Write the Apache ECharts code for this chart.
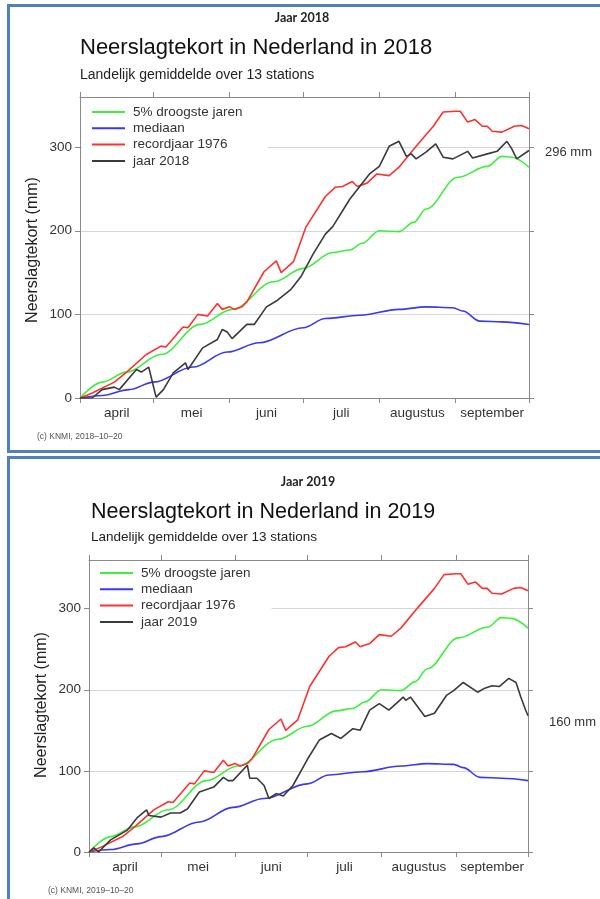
<!DOCTYPE html>
<html>
<head>
<meta charset="utf-8">
<script src="https://cdn.jsdelivr.net/npm/echarts@6/dist/echarts.min.js"></script>
<style>
  html, body { margin: 0; padding: 0; background: #fff; overflow: hidden; }
  .frame { position: absolute; border: 3px solid #4f81bd; box-sizing: border-box; }
  .chart { position: absolute; left: 0; width: 600px; }
</style>
</head>
<body>
<div class="frame" style="left:7px; top:4px; width:640px; height:449px"></div>
<div class="frame" style="left:7px; top:456px; width:640px; height:500px"></div>
<div id="c2018" class="chart" style="top:0; height:455px"></div>
<div id="c2019" class="chart" style="top:455px; height:444px"></div>

<script>
// x = dagen vanaf 1 april, y = neerslagtekort in mm
const months = ['april', 'mei', 'juni', 'juli', 'augustus', 'september']
const monthStarts = [0, 30, 61, 91, 122, 153, 183]
const yTicks = [0, 100, 200, 300]

const droogste = [[0,0],[9,19],[19,31],[33,52],[49,88],[62,106],[79,139],[91,155],[103,174],[110,177],[115,185],[122,200],[130,199],[136,210],[141,226],[154,264],[166,277],[172,289],[176,288],[183,276]]
const mediaan = [[0,0],[9,3],[20,10],[30,19],[46,37],[60,55],[73,66],[91,84],[100,95],[114,99],[130,106],[141,109],[152,108],[156,104],[163,92],[172,91],[183,88]]
const record1976 = [[0,0],[5,6],[14,19],[19,31],[27,52],[33,62],[35,61],[42,85],[44,84],[48,100],[52,98],[56,113],[58,106],[61,109],[63,106],[66,109],[68,115],[75,151],[80,164],[82,150],[87,163],[92,204],[100,241],[104,252],[107,253],[111,259],[113,253],[117,257],[121,268],[126,266],[130,276],[137,301],[144,325],[148,342],[153,343],[155,343],[158,330],[161,333],[164,325],[166,325],[168,319],[172,318],[177,325],[180,326],[183,322]]
const jaar2018 = [[0,0],[5,0],[9,10],[14,13],[16,10],[23,34],[25,31],[28,37],[31,1],[34,10],[38,30],[43,42],[44,34],[50,60],[56,70],[58,82],[60,79],[62,71],[68,88],[71,88],[76,109],[80,116],[86,130],[90,145],[95,172],[100,196],[103,205],[110,238],[118,268],[122,277],[126,301],[130,307],[133,289],[135,292],[137,286],[141,294],[145,304],[148,288],[152,286],[158,295],[160,287],[166,292],[170,295],[174,307],[176,298],[178,286],[183,296]]
const jaar2019 = [[0,0],[2,5],[4,0],[9,15],[16,27],[20,42],[24,52],[25,45],[30,43],[34,48],[38,48],[41,53],[46,74],[52,80],[56,92],[58,88],[60,88],[66,107],[67,91],[70,91],[73,82],[75,66],[78,72],[81,69],[85,82],[91,114],[96,138],[101,146],[105,140],[110,152],[113,150],[117,175],[121,183],[125,175],[131,191],[132,187],[134,191],[140,167],[144,171],[149,193],[152,199],[156,209],[162,197],[165,202],[168,205],[171,204],[175,214],[178,209],[180,191],[182,175],[183,168]]

const monthMids = months.map((m, i) => (monthStarts[i] + monthStarts[i + 1]) / 2)
const axisGray = '#8a8a8a'
const font = 'Liberation Sans'

function makeChart(el, p) {
  const chart = echarts.init(el)
  const names = ['5% droogste jaren', 'mediaan', 'recordjaar 1976', 'jaar ' + p.year]
  const line = (name, data, color, smooth) => ({
    type: 'line', name, data, symbol: 'none', silent: true,
    smooth: smooth ? 0.35 : false, smoothMonotone: 'x',
    lineStyle: { color, width: 1.6 }, itemStyle: { color }
  })
  const text = (t, x, y, size, extra) => ({
    type: 'text', x, y, silent: true,
    style: Object.assign({ text: t, fontFamily: font, fontSize: size, fill: '#222', verticalAlign: 'middle' }, extra)
  })
  const frameAxis = (pos, max, ticks) => ({
    type: 'value', min: 0, max, position: pos,
    axisLine: { show: true, onZero: false, lineStyle: { color: axisGray } },
    axisTick: { show: true, customValues: ticks, length: 5, lineStyle: { color: axisGray } },
    axisLabel: { show: false },
    splitLine: { show: false }
  })

  chart.setOption({
    animation: false,
    textStyle: { fontFamily: font },
    grid: { left: p.left, top: p.top, width: p.width, height: p.height },
    xAxis: [
      {
        type: 'value', min: 0, max: 183, position: 'bottom',
        axisLine: { show: true, onZero: false, lineStyle: { color: axisGray } },
        axisTick: { show: true, customValues: monthStarts, length: 5, lineStyle: { color: axisGray } },
        axisLabel: {
          customValues: monthMids, color: '#333', fontSize: 13.5, margin: 8,
          formatter: (v) => months[monthMids.indexOf(v)]
        },
        splitLine: { show: false }
      },
      frameAxis('top', 183, monthStarts)
    ],
    yAxis: [
      {
        type: 'value', min: 0, max: 360, position: 'left',
        axisLine: { show: true, onZero: false, lineStyle: { color: axisGray } },
        axisTick: { show: true, customValues: yTicks, length: 5, lineStyle: { color: axisGray } },
        axisLabel: { customValues: yTicks, color: '#333', fontSize: 13.5, margin: 8 },
        splitLine: { show: true, lineStyle: { color: '#d6d6d6', width: 1 } }
      },
      frameAxis('right', 360, yTicks)
    ],
    legend: {
      orient: 'vertical', left: p.legendLeft, top: p.legendTop,
      icon: 'rect', itemWidth: 33, itemHeight: 2, itemGap: 2.3,
      backgroundColor: '#fff', padding: [2, p.legendPadRight, 2, 10],
      selectedMode: false,
      textStyle: { fontSize: 13.5, color: '#333', lineHeight: 14, padding: [0, 0, 0, 3] },
      data: names
    },
    graphic: [
      text('Jaar ' + p.year, p.jaarX, p.jaarY, 12.5, { fontFamily: 'Lato', fontWeight: 'bold', align: 'center' }),
      text('Neerslagtekort in Nederland in ' + p.year, p.titleX, p.titleY, p.titleSize, { fill: '#111' }),
      text('Landelijk gemiddelde over 13 stations', p.titleX, p.subY, p.subSize),
      text(p.endLabel, p.endX, p.endY, 13, { fill: '#333' }),
      text('(c) KNMI, ' + p.stamp, p.footX, p.footY, 8.5, { fill: '#555' }),
      {
        type: 'text', x: p.nameX, y: p.nameY, rotation: Math.PI / 2, silent: true,
        style: { text: 'Neerslagtekort (mm)', fontFamily: font, fontSize: 16, fill: '#222', align: 'center', verticalAlign: 'middle' }
      }
    ],
    series: [
      line(names[0], droogste, '#3cf03c', true),
      line(names[1], mediaan, '#3838f5', true),
      line(names[2], record1976, '#ff3030', false),
      line(names[3], p.data, '#3a3a3a', false)
    ]
  })
}

makeChart(document.getElementById('c2018'), {
  year: 2018, data: jaar2018, endLabel: '296 mm', stamp: '2018–10–20',
  left: 80, top: 97, width: 449, height: 301,
  legendLeft: 82, legendTop: 103, legendPadRight: 25,
  jaarX: 302, jaarY: 18, titleX: 80, titleY: 48, titleSize: 22, subY: 75, subSize: 14,
  endX: 545, endY: 152, footX: 37, footY: 437, nameX: 33, nameY: 250
})

makeChart(document.getElementById('c2019'), {
  year: 2019, data: jaar2019, endLabel: '160 mm', stamp: '2019–10–20',
  left: 89, top: 105, width: 439, height: 292,
  legendLeft: 90, legendTop: 109, legendPadRight: 21,
  jaarX: 308, jaarY: 27, titleX: 91, titleY: 57, titleSize: 21.5, subY: 82, subSize: 13.5,
  endX: 549, endY: 267, footX: 48, footY: 436, nameX: 42, nameY: 250
})
</script>
</body>
</html>
